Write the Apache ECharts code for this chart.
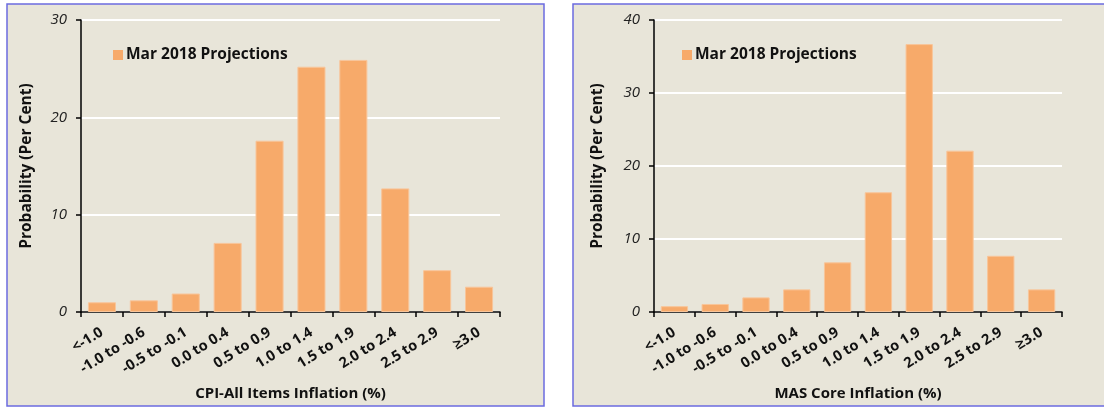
<!DOCTYPE html>
<html>
<head>
<meta charset="utf-8">
<script src="https://cdn.jsdelivr.net/npm/echarts@6/dist/echarts.min.js"></script>
<style>
html,body{margin:0;padding:0;background:#fff;}
#c{width:1104px;height:407px;}
</style>
</head>
<body>
<div id="c"></div>
<script>
const categories = ['<-1.0','-1.0 to -0.6','-0.5 to -0.1','0.0 to 0.4','0.5 to 0.9','1.0 to 1.4','1.5 to 1.9','2.0 to 2.4','2.5 to 2.9','\u22653.0'];
const cpiAllItems = [1.0, 1.2, 1.9, 7.1, 17.6, 25.2, 25.9, 12.7, 4.3, 2.6];
const masCore = [0.8, 1.1, 2.0, 3.1, 6.8, 16.4, 36.7, 22.1, 7.7, 3.1];
const seriesName = 'Mar 2018 Projections';
const leftTicks = {min: 0, max: 30, interval: 10};
const rightTicks = {min: 0, max: 40, interval: 10};
const leftXName = 'CPI-All Items Inflation (%)';
const rightXName = 'MAS Core Inflation (%)';
const yName = 'Probability (Per Cent)';

const FONT = 'Open Sans';
const chart = echarts.init(document.getElementById('c'), null, {renderer: 'canvas'});

function xAxis(gi, name) {
  return {
    type: 'category', gridIndex: gi, data: categories,
    name: name, nameLocation: 'middle', nameGap: 74,
    nameTextStyle: {fontFamily: FONT, fontWeight: 'bold', fontSize: 15, color: '#111'},
    axisLine: {lineStyle: {color: '#000', width: 1.5}},
    axisTick: {show: true, alignWithLabel: false, length: 5, lineStyle: {color: '#000', width: 1.5}},
    axisLabel: {rotate: 32, fontFamily: FONT, fontWeight: 'bold', fontSize: 14.5, color: '#111', margin: 19, interval: 0},
    splitLine: {show: false}
  };
}
function yAxis(gi, t, gap) {
  return {
    type: 'value', gridIndex: gi, min: t.min, max: t.max, interval: t.interval,
    name: yName, nameLocation: 'middle', nameGap: gap, nameRotate: 90,
    nameTextStyle: {fontFamily: FONT, fontWeight: 'bold', fontSize: 15.5, color: '#111'},
    axisLine: {show: true, lineStyle: {color: '#000', width: 1.5}},
    axisTick: {show: true, length: 5, lineStyle: {color: '#000', width: 1.5}},
    axisLabel: {fontFamily: FONT, fontStyle: 'italic', fontSize: 15, color: '#222', margin: 14},
    splitLine: {show: true, lineStyle: {color: '#ffffff', width: 2}}
  };
}
function bars(gi, data) {
  return {
    type: 'bar', name: seriesName, xAxisIndex: gi, yAxisIndex: gi, data: data,
    barCategoryGap: '33%',
    itemStyle: {color: '#F7AA6A', borderColor: '#F8C59A', borderWidth: 1},
    emphasis: {disabled: true}, animation: false
  };
}
function legend(left) {
  return {
    data: [seriesName], left: left, top: 42, icon: 'rect', itemWidth: 10, itemHeight: 10, itemGap: 5,
    itemStyle: {borderWidth: 0},
    textStyle: {fontFamily: FONT, fontWeight: 'bold', fontSize: 15.5, color: '#111', padding: [0,0,0,-2]},
    selectedMode: false
  };
}

chart.setOption({
  animation: false,
  backgroundColor: '#ffffff',
  graphic: [
    {type: 'rect', shape: {x: 7, y: 4, width: 537, height: 402}, style: {fill: '#E8E5D9', stroke: '#6B6BE0', lineWidth: 1.5}, z: -10},
    {type: 'rect', shape: {x: 573, y: 4, width: 540, height: 402}, style: {fill: '#E8E5D9', stroke: '#6B6BE0', lineWidth: 1.5}, z: -10}
  ],
  legend: [legend(108), legend(677)],
  grid: [
    {left: 81, top: 20, width: 419, height: 292},
    {left: 654, top: 20, width: 408, height: 292}
  ],
  xAxis: [xAxis(0, leftXName), xAxis(1, rightXName)],
  yAxis: [yAxis(0, leftTicks, 46), yAxis(1, rightTicks, 48)],
  series: [bars(0, cpiAllItems), bars(1, masCore)]
});
</script>
</body>
</html>
